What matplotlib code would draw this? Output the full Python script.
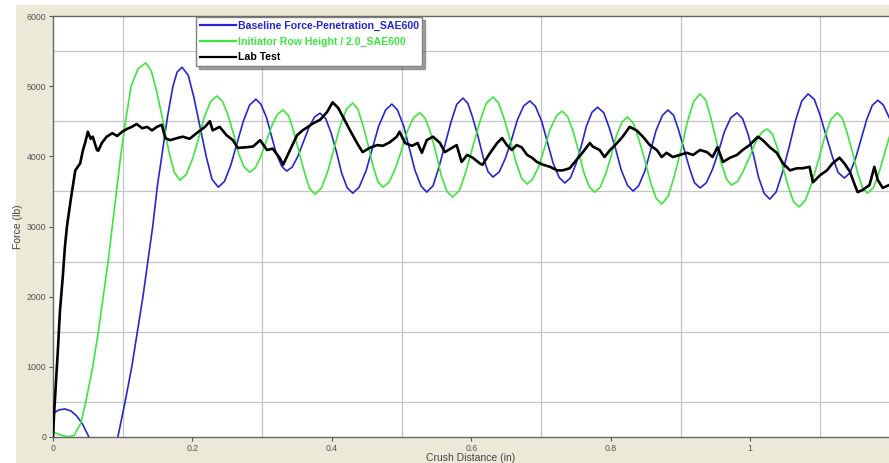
import matplotlib
matplotlib.use("Agg")
import matplotlib.pyplot as plt
from matplotlib.patches import Rectangle

# ---------------- data ----------------
baseline_x = [0.000, 0.001, 0.008, 0.017, 0.026, 0.034, 0.042, 0.050, 0.056, 0.065, 0.075, 0.085, 0.093,
              0.103, 0.113, 0.121, 0.129, 0.136, 0.143, 0.150, 0.156, 0.164, 0.172, 0.178, 0.185,
              0.194, 0.202, 0.211, 0.220, 0.228, 0.237,
              0.246, 0.255, 0.264, 0.273, 0.282, 0.291,
              0.298, 0.306, 0.313, 0.320, 0.328, 0.335,
              0.343, 0.351, 0.359, 0.367, 0.375, 0.383,
              0.391, 0.399, 0.407, 0.414, 0.422, 0.430,
              0.439, 0.449, 0.458, 0.467, 0.477, 0.486,
              0.494, 0.503, 0.511, 0.519, 0.528, 0.536,
              0.545, 0.553, 0.562, 0.571, 0.579, 0.588,
              0.595, 0.602, 0.610, 0.617, 0.624, 0.631,
              0.640, 0.649, 0.658, 0.666, 0.675, 0.684,
              0.692, 0.701, 0.709, 0.717, 0.726, 0.734,
              0.742, 0.750, 0.758, 0.765, 0.773, 0.781,
              0.790, 0.798, 0.807, 0.815, 0.824, 0.832,
              0.840, 0.849, 0.857, 0.865, 0.874, 0.882,
              0.890, 0.897, 0.905, 0.913, 0.920, 0.928,
              0.937, 0.946, 0.955, 0.963, 0.972, 0.981,
              0.989, 0.997, 1.005, 1.012, 1.020, 1.028,
              1.037, 1.046, 1.056, 1.065, 1.074, 1.083,
              1.092, 1.100, 1.109, 1.118, 1.126, 1.135,
              1.143, 1.151, 1.159, 1.167, 1.175, 1.183,
              1.191, 1.199, 1.208]
baseline_y = [0, 340, 385, 400, 370, 300, 190, 30, -100, -250, -300, -200, 0,
              480, 1000, 1500, 2000, 2500, 3000, 3600, 4000, 4550, 5000, 5200, 5270,
              5155, 4842, 4415, 3987, 3675, 3560,
              3644, 3874, 4188, 4501, 4731, 4815,
              4746, 4559, 4302, 4046, 3859, 3790,
              3845, 3996, 4203, 4409, 4560, 4615,
              4539, 4330, 4045, 3760, 3551, 3475,
              3560, 3793, 4110, 4428, 4660, 4745,
              4661, 4431, 4117, 3804, 3574, 3490,
              3580, 3825, 4160, 4495, 4740, 4830,
              4755, 4549, 4267, 3986, 3780, 3705,
              3778, 3976, 4248, 4519, 4717, 4790,
              4712, 4497, 4205, 3912, 3698, 3620,
              3692, 3890, 4160, 4430, 4628, 4700,
              4620, 4401, 4102, 3804, 3585, 3505,
              3582, 3794, 4083, 4371, 4583, 4660,
              4586, 4382, 4105, 3827, 3624, 3550,
              3622, 3818, 4085, 4353, 4548, 4620,
              4538, 4312, 4005, 3697, 3472, 3390,
              3490, 3765, 4140, 4515, 4790, 4890,
              4810, 4590, 4290, 3990, 3770, 3690,
              3764, 3968, 4245, 4523, 4726, 4800,
              4730, 4560, 4350]

initiator_x = [0.000, 0.010, 0.020, 0.030, 0.040, 0.047, 0.057, 0.065, 0.072, 0.079, 0.085, 0.091,
               0.097, 0.104, 0.112, 0.122, 0.133,
               0.141, 0.149, 0.158, 0.166, 0.174, 0.182,
               0.191, 0.200, 0.209, 0.217, 0.226, 0.235,
               0.243, 0.251, 0.259, 0.266, 0.274, 0.282,
               0.290, 0.298, 0.306, 0.314, 0.322, 0.330,
               0.338, 0.345, 0.353, 0.361, 0.368, 0.376,
               0.385, 0.394, 0.403, 0.412, 0.421, 0.430,
               0.437, 0.444, 0.452, 0.459, 0.466, 0.473,
               0.482, 0.491, 0.500, 0.508, 0.517, 0.526,
               0.534, 0.542, 0.550, 0.557, 0.565, 0.573,
               0.583, 0.592, 0.602, 0.612, 0.621, 0.631,
               0.639, 0.647, 0.656, 0.664, 0.672, 0.680,
               0.688, 0.697, 0.705, 0.713, 0.722, 0.730,
               0.738, 0.746, 0.754, 0.761, 0.769, 0.777,
               0.785, 0.793, 0.801, 0.808, 0.816, 0.824,
               0.832, 0.840, 0.849, 0.857, 0.865, 0.873,
               0.882, 0.891, 0.901, 0.910, 0.919, 0.928,
               0.936, 0.943, 0.951, 0.958, 0.966, 0.973,
               0.982, 0.990, 0.999, 1.007, 1.016, 1.024,
               1.032, 1.039, 1.047, 1.055, 1.062, 1.070,
               1.079, 1.088, 1.098, 1.107, 1.116, 1.125,
               1.132, 1.139, 1.147, 1.154, 1.161, 1.168,
               1.177, 1.185, 1.194, 1.203, 1.211]
initiator_y = [75, 30, 5, 20, 200, 500, 1000, 1500, 2000, 2500, 3000, 3500,
               4000, 4500, 5000, 5250, 5330,
               5218, 4912, 4495, 4077, 3772, 3660,
               3740, 3960, 4260, 4560, 4780, 4860,
               4787, 4589, 4317, 4046, 3848, 3775,
               3834, 3996, 4218, 4439, 4601, 4660,
               4580, 4360, 4060, 3760, 3540, 3460,
               3547, 3785, 4110, 4435, 4673, 4760,
               4680, 4460, 4160, 3860, 3640, 3560,
               3631, 3825, 4090, 4355, 4549, 4620,
               4540, 4320, 4020, 3720, 3500, 3420,
               3515, 3776, 4133, 4489, 4750, 4845,
               4762, 4535, 4225, 3915, 3688, 3605,
               3675, 3865, 4125, 4385, 4575, 4645,
               4568, 4356, 4067, 3779, 3567, 3490,
               3562, 3758, 4025, 4293, 4488, 4560,
               4477, 4250, 3940, 3630, 3403, 3320,
               3425, 3713, 4105, 4498, 4785, 4890,
               4803, 4565, 4240, 3915, 3677, 3590,
               3644, 3790, 3990, 4190, 4336, 4390,
               4316, 4112, 3835, 3557, 3354, 3280,
               3370, 3615, 3950, 4285, 4530, 4620,
               4543, 4334, 4047, 3761, 3552, 3475,
               3557, 3781, 4088, 4394, 4618]

lab_x = [0.000, 0.0014, 0.003, 0.007, 0.010, 0.014, 0.017, 0.020, 0.026, 0.032, 0.039, 0.043, 0.046,
         0.050, 0.054, 0.057, 0.063, 0.065, 0.070, 0.077, 0.085, 0.092, 0.099, 0.106, 0.113, 0.120,
         0.128, 0.135, 0.142, 0.149, 0.156, 0.161, 0.168, 0.178, 0.186, 0.196, 0.206, 0.218, 0.225,
         0.229, 0.239, 0.249, 0.258, 0.265, 0.278, 0.287, 0.297, 0.307, 0.315, 0.325, 0.330, 0.340,
         0.350, 0.358, 0.373, 0.383, 0.393, 0.401, 0.409, 0.416, 0.426, 0.436, 0.444, 0.454, 0.465,
         0.473, 0.483, 0.493, 0.497, 0.505, 0.515, 0.523, 0.529, 0.536, 0.545, 0.555, 0.562, 0.572,
         0.579, 0.586, 0.594, 0.602, 0.612, 0.616, 0.627, 0.637, 0.644, 0.651, 0.658, 0.665, 0.672,
         0.680, 0.687, 0.694, 0.703, 0.713, 0.723, 0.731, 0.741, 0.751, 0.760, 0.770, 0.774, 0.784,
         0.791, 0.799, 0.809, 0.817, 0.827, 0.837, 0.846, 0.856, 0.866, 0.873, 0.880, 0.889, 0.899,
         0.909, 0.918, 0.928, 0.938, 0.946, 0.953, 0.961, 0.971, 0.981, 0.989, 0.999, 1.011, 1.018,
         1.028, 1.038, 1.047, 1.057, 1.067, 1.075, 1.085, 1.090, 1.100, 1.110, 1.118, 1.128, 1.135,
         1.143, 1.150, 1.154, 1.161, 1.171, 1.178, 1.183, 1.190, 1.199]
lab_y = [0, 300, 570, 1240, 1800, 2280, 2700, 3000, 3420, 3800, 3900, 4090, 4190,
         4350, 4250, 4280, 4090, 4080, 4190, 4280, 4330, 4290, 4350, 4390, 4420, 4460,
         4400, 4420, 4370, 4420, 4450, 4260, 4230, 4260, 4280, 4250, 4330, 4420, 4500,
         4370, 4420, 4300, 4230, 4120, 4130, 4140, 4230, 4090, 4110, 3980, 3880, 4090,
         4300, 4370, 4470, 4520, 4630, 4770, 4690, 4560, 4370, 4190, 4060, 4120, 4160,
         4150, 4200, 4280, 4350, 4190, 4150, 4190, 4050, 4230, 4280, 4190, 4060, 4120,
         4160, 3920, 4020, 3980, 3900, 3880, 4050, 4190, 4260, 4160, 4090, 4160, 4130,
         4020, 3980, 3920, 3880, 3850, 3800, 3800, 3830, 3950, 4060, 4190, 4140, 4090,
         3990, 4090, 4190, 4280, 4420, 4370, 4280, 4160, 4090, 3990, 4050, 3990, 4020,
         4050, 4020, 4090, 4060, 3990, 4130, 3920, 3980, 4020, 4090, 4160, 4280, 4230,
         4130, 4050, 3900, 3800, 3830, 3830, 3850, 3630, 3730, 3800, 3900, 3980, 3900,
         3780, 3590, 3490, 3520, 3590, 3850, 3660, 3550, 3590]

series_labels = ["Baseline Force-Penetration_SAE600",
                 "Initiator Row Height / 2.0_SAE600",
                 "Lab Test"]
x_ticks = [0, 0.2, 0.4, 0.6, 0.8, 1.0]
x_tick_labels = ["0", "0.2", "0.4", "0.6", "0.8", "1"]
y_ticks = [0, 1000, 2000, 3000, 4000, 5000, 6000]
y_tick_labels = ["0", "1000", "2000", "3000", "4000", "5000", "6000"]

# ---------------- styling ----------------
BG = "#ECE9D8"
BLUE = "#2626D0"
GREEN = "#3CE63C"
plt.rcParams['font.family'] = ['Liberation Sans', 'DejaVu Sans']

W, H = 889, 463
fig = plt.figure(figsize=(W / 100, H / 100), dpi=100, facecolor="white")
# beige window panel (screenshot starts with a thin white margin at left/top)
fig.patches.append(Rectangle((16 / W, 0), 1 - 16 / W, 1 - 5 / H, transform=fig.transFigure,
                             facecolor=BG, edgecolor="none", zorder=-10))

ax = fig.add_axes([53 / W, 26 / H, 1 - 53 / W, 421 / H])
ax.set_facecolor("white")

ax.plot(baseline_x, baseline_y, color=BLUE, lw=1.2, label=series_labels[0], zorder=3)
ax.plot(initiator_x, initiator_y, color=GREEN, lw=1.2, label=series_labels[1], zorder=3)
ax.plot(lab_x, lab_y, color="black", lw=1.9, label=series_labels[2], zorder=4)

ax.set_xlim(0, 1.199)
ax.set_ylim(0, 6000)

ax.set_xticks([i / 10 for i in range(0, 12)], minor=True)
ax.set_yticks([i * 500 for i in range(0, 13)], minor=True)
ax.grid(True, which="minor", color="#C4C4C4", lw=0.9, zorder=0)
ax.set_xticks(x_ticks)
ax.set_xticklabels(x_tick_labels)
ax.set_yticks(y_ticks)
ax.set_yticklabels(y_tick_labels)
ax.tick_params(which="major", length=3, width=0.8, color="#555555", labelsize=6.3,
               labelcolor="#555555", pad=2)
ax.tick_params(which="minor", length=0)

for s in ["left", "bottom", "top"]:
    ax.spines[s].set_color("#666666")
    ax.spines[s].set_linewidth(1.0)
ax.spines["right"].set_visible(False)

ax.set_xlabel("Crush Distance (in)", fontsize=7.5, color="#444444", labelpad=0)
ax.set_ylabel("Force (lb)", fontsize=7.5, color="#444444")
ax.yaxis.set_label_coords(-0.036, 0.5)

leg = ax.legend(loc="upper left", bbox_to_anchor=(0.171, 0.998), frameon=True, fancybox=False,
                shadow=True, prop=dict(weight="bold", size=7.6), labelcolor="linecolor",
                handlelength=3.4, handletextpad=0.2, borderpad=0.35, labelspacing=0.55,
                borderaxespad=0)
leg.get_frame().set_edgecolor("#808080")
leg.get_frame().set_linewidth(1.0)
for line in leg.get_lines():
    line.set_linewidth(1.6)

fig.savefig("out.png", dpi=100, facecolor="white")
